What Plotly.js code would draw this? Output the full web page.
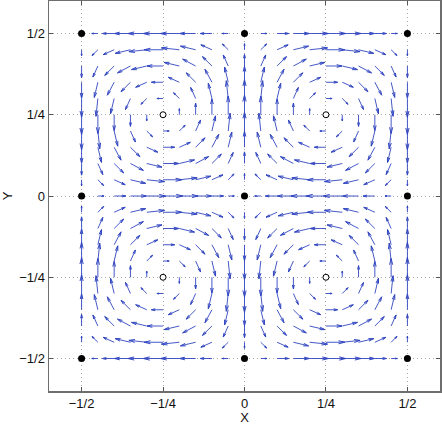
<!DOCTYPE html>
<html>
<head>
<meta charset="utf-8">
<script src="https://cdn.plot.ly/plotly-3.0.1.min.js"></script>
<style>
  html, body { margin: 0; padding: 0; background: #fff; }
  #chart { width: 442px; height: 425px; }
</style>
</head>
<body>
<div id="chart"></div>
<script>
// grid of arrow positions (same along x and y)
const gridPos = [-0.5, -0.45, -0.4, -0.35, -0.3, -0.25, -0.2, -0.15, -0.1, -0.05, 0,
                 0.05, 0.1, 0.15, 0.2, 0.25, 0.3, 0.35, 0.4, 0.45, 0.5];

// relative arrow strength profiles read along a row / column
const oddProfile  = [0, -0.31, -0.59, -0.81, -0.95, -1, -0.95, -0.81, -0.59, -0.31, 0,
                     0.31, 0.59, 0.81, 0.95, 1, 0.95, 0.81, 0.59, 0.31, 0];
const evenProfile = [-1, -0.95, -0.81, -0.59, -0.31, 0, 0.31, 0.59, 0.81, 0.95, 1,
                     0.95, 0.81, 0.59, 0.31, 0, -0.31, -0.59, -0.81, -0.95, -1];

// stagnation points
const saddleX = [-0.5, 0, 0.5, -0.5, 0, 0.5, -0.5, 0, 0.5];
const saddleY = [0.5, 0.5, 0.5, 0, 0, 0, -0.5, -0.5, -0.5];
const centerX = [-0.25, 0.25, -0.25, 0.25];
const centerY = [0.25, 0.25, -0.25, -0.25];

const tickVals = [-0.5, -0.25, 0, 0.25, 0.5];
const tickText = ["\u22121/2", "\u22121/4", "0", "1/4", "1/2"];

// build the quiver field table
const U = [], V = [], X = [], Y = [];
gridPos.forEach((gy, j) => {
  gridPos.forEach((gx, i) => {
    X.push(gx);
    Y.push(gy);
    U.push(-oddProfile[i] * evenProfile[j]);
    V.push(evenProfile[i] * oddProfile[j]);
  });
});

// matlab-like autoscale
const n = gridPos.length;
const del = 2 * Math.pow(1 / n, 2);
let maxLen = 0;
U.forEach((u, k) => { maxLen = Math.max(maxLen, Math.sqrt((u * u + V[k] * V[k]) / del)); });
const scale = 0.9 / maxLen;

const alpha = 0.33, beta = 0.25;
const sx = [], sy = [], hx = [], hy = [];
X.forEach((x, k) => {
  const uu = U[k] * scale, vv = V[k] * scale;
  const y = Y[k];
  sx.push(x, x + uu, null);
  sy.push(y, y + vv, null);
  hx.push(x + uu - alpha * (uu + beta * vv), x + uu, x + uu - alpha * (uu - beta * vv), null);
  hy.push(y + vv - alpha * (vv - beta * uu), y + vv, y + vv - alpha * (vv + beta * uu), null);
});

const arrowColor = "#3045c0";
const font = "Liberation Sans, Arial, sans-serif";

const traces = [
  { x: sx, y: sy, mode: "lines", line: { color: arrowColor, width: 0.9 }, hoverinfo: "skip" },
  { x: hx, y: hy, mode: "lines", line: { color: arrowColor, width: 1 }, hoverinfo: "skip" },
  { x: saddleX, y: saddleY, mode: "markers",
    marker: { color: "#000", size: 7, line: { width: 0 } } },
  { x: centerX, y: centerY, mode: "markers",
    marker: { color: "#fff", size: 6, line: { color: "#000", width: 1 } } }
];

const axisBase = {
  range: [-0.6, 0.6],
  tickvals: tickVals,
  ticktext: tickText,
  ticks: "inside",
  ticklen: 4,
  tickcolor: "#555",
  showline: true,
  linecolor: "#6e6e6e",
  linewidth: 1.5,
  mirror: "ticks",
  showgrid: true,
  gridcolor: "#a8a8a8",
  griddash: "1px,3px",
  gridwidth: 1,
  zeroline: false,
  tickfont: { family: font, size: 13, color: "#111" }
};

const layout = {
  width: 442,
  height: 425,
  margin: { l: 49, r: 2, t: 1, b: 34 },
  paper_bgcolor: "#fff",
  plot_bgcolor: "#fff",
  showlegend: false,
  xaxis: Object.assign({}, axisBase, {
    title: { text: "X", standoff: 0, font: { family: font, size: 13, color: "#111" } }
  }),
  yaxis: Object.assign({}, axisBase, {
    title: { text: "Y", standoff: 8, font: { family: font, size: 13, color: "#111" } }
  })
};

Plotly.newPlot("chart", traces, layout, { staticPlot: true, displayModeBar: false });
</script>
</body>
</html>
